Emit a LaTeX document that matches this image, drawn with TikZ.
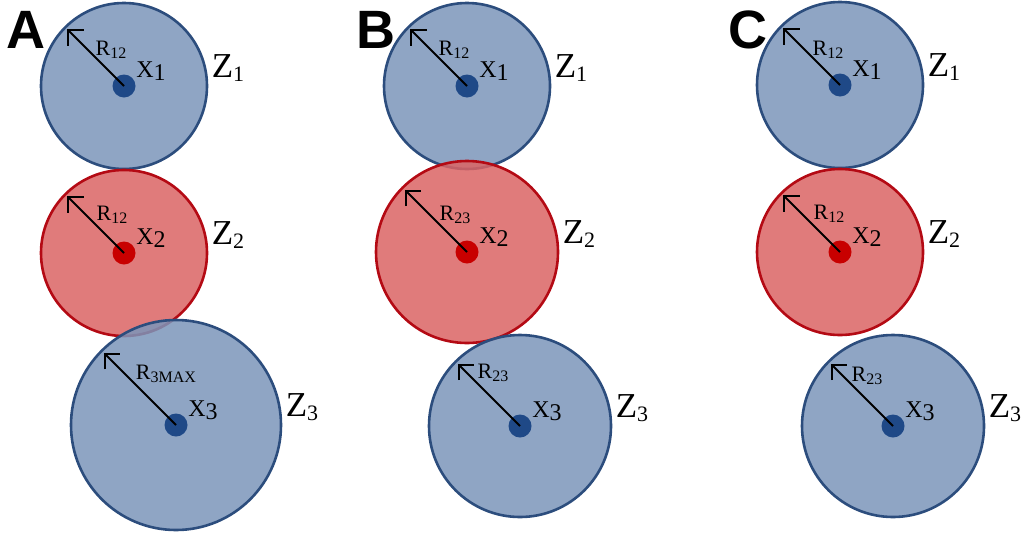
\documentclass[tikz,border=0pt]{standalone}
\usepackage{fontspec}
\setmainfont{Liberation Serif}
\newfontfamily\panelfont{Liberation Sans}
\usetikzlibrary{arrows.meta}
\usepackage{xcolor}

\definecolor{zbluefill}{RGB}{123,149,186}
\definecolor{zblueline}{RGB}{44,77,125}
\definecolor{zbluedot}{RGB}{31,73,135}
\definecolor{zredfill}{RGB}{219,100,100}
\definecolor{zredline}{RGB}{180,10,20}
\definecolor{zreddot}{RGB}{200,0,0}

\newcommand{\rsub}[1]{{\fontsize{16}{16}\selectfont\raisebox{-3pt}{#1}}}
\newcommand{\zsub}[1]{{\fontsize{22}{22}\selectfont\raisebox{-4pt}{#1}}}

\begin{document}
\begin{tikzpicture}[x=1pt, y=-1pt, >={Straight Barb[length=11pt,width=22pt]},
  zone/.style={circle, draw=#1line, fill=#1fill, fill opacity=0.85, line width=2.6pt, inner sep=0pt, outer sep=0pt},
  dot/.style={circle, fill=#1dot, minimum size=23pt, inner sep=0pt},
  rlabel/.style={font=\fontsize{22}{24}\selectfont, inner sep=0pt},
  xlabel/.style={font=\fontsize{24}{26}\selectfont, inner sep=0pt},
  zlabel/.style={font=\fontsize{35}{38}\selectfont, inner sep=0pt},
  panel/.style={font=\panelfont\bfseries\fontsize{54}{54}\selectfont, inner sep=0pt}]

\useasboundingbox (0,0) rectangle (1024,536);

\foreach \p/\k/\cx/\cy/\d/\c in {a/1/124/86/166/zblue, a/2/124/253/166/zred, a/3/176/425/210/zblue,
    b/1/467/86/166/zblue, b/2/467/252/182/zred, b/3/520/426/182/zblue,
    c/1/840/85/166/zblue, c/2/840/252/166/zred, c/3/893/426/182/zblue}
  \node [zone=\c, minimum size=\d pt] (zone-\p\k) at (\cx,\cy) {};

\foreach \z/\c in {a1/zblue, a2/zred, a3/zblue, b1/zblue, b2/zred, b3/zblue, c1/zblue, c2/zred, c3/zblue}
  \node [dot=\c] (dot-\z) at (zone-\z) {};

\foreach \z in {a1,a2,a3,b1,b2,b3,c1,c2,c3}
  \draw [->, line width=1.8pt, shorten >=3pt] (dot-\z.center) -- (zone-\z.135);

\foreach \z/\s/\rx/\ry in {a1/12/-13/-36, a2/12/-12/-38, a3/3MAX/-10/-51,
    b1/12/-13/-36, b2/23/-12/-37, b3/23/-27/-53,
    c1/12/-12/-35, c2/12/-11/-38, c3/23/-26/-50}
  \node [rlabel, shift={(\rx,\ry)}] (r-\z) at (zone-\z) {R\rsub{\s}};

\foreach \z/\k in {a1/1, a2/2, a3/3, b1/1, b2/2, b3/3, c1/1, c2/2, c3/3}
  \node [xlabel, shift={(27,-15)}] (x-\z) at (dot-\z) {X\raisebox{-3pt}{\k}};

\foreach \z/\k in {a1/1, a2/2, a3/3, b1/1, b2/2, b3/3, c1/1, c2/2, c3/3}
  \node [zlabel, shift={(21,-18)}] (zl-\z) at (zone-\z.east) {Z\zsub{\k}};

\foreach \p/\x in {A/6, B/356, C/728}
  \node [panel, anchor=north west] (panel-\p) at (\x,11) {\p};

\end{tikzpicture}
\end{document}
